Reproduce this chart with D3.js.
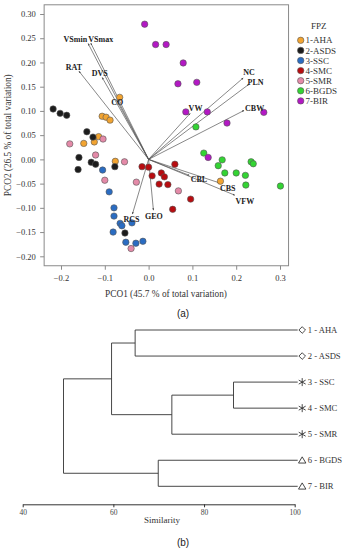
<!DOCTYPE html>
<html><head><meta charset="utf-8">
<script src="https://cdn.jsdelivr.net/npm/d3@7"></script>
<style>body{margin:0;background:#fff}svg{display:block}</style>
</head><body>
<script>
// ---------- DATA ----------
const groups = ["1-AHA","2-ASDS","3-SSC","4-SMC","5-SMR","6-BGDS","7-BIR"];
const groupColors = ["#f2a431","#1c1c1c","#2a6cc2","#b80c10","#e48aa8","#33d433","#b318c4"];
const xTicks = [-0.2,-0.1,0.0,0.1,0.2,0.3];
const yTicks = [-0.20,-0.15,-0.10,-0.05,0.00,0.05,0.10,0.15,0.20,0.25,0.30];
const ahaPts = [[-0.066,0.128],[-0.106,0.089],[-0.097,0.087],[-0.088,0.081],[-0.114,0.047],[-0.124,0.036],[-0.148,0.033],[-0.076,-0.004],[0.164,-0.045]];
const asdsPts = [[-0.218,0.104],[-0.202,0.095],[-0.187,0.091],[-0.141,0.057],[-0.127,0.046],[-0.159,0.004],[-0.131,-0.006],[-0.121,-0.010],[-0.077,-0.015],[-0.161,-0.021],[-0.054,-0.152]];
const sscPts = [[-0.105,-0.022],[-0.090,-0.067],[-0.079,-0.100],[-0.079,-0.117],[-0.065,-0.132],[-0.061,-0.137],[-0.038,-0.131],[-0.081,-0.150],[-0.052,-0.171],[-0.029,-0.173],[-0.013,-0.169]];
const smcPts = [[-0.015,-0.015],[0.000,-0.016],[0.008,-0.034],[0.029,-0.028],[0.036,-0.036],[0.024,-0.051],[0.044,-0.052],[0.060,-0.010],[0.096,-0.082],[0.055,-0.103]];
const smrPts = [[-0.104,0.042],[-0.180,0.032],[-0.121,0.009],[-0.055,-0.005],[-0.100,-0.043],[-0.028,-0.047],[-0.040,-0.184],[0.068,-0.065]];
const bgdsPts = [[0.108,0.067],[0.126,0.013],[0.168,-0.001],[0.159,-0.013],[0.174,-0.028],[0.200,-0.028],[0.221,-0.033],[0.234,-0.005],[0.239,-0.009],[0.222,-0.053],[0.301,-0.055]];
const birPts = [[-0.009,0.279],[0.016,0.237],[0.040,0.237],[0.079,0.199],[0.067,0.156],[0.110,0.159],[0.085,0.098],[0.134,0.098],[0.263,0.097],[0.179,0.075],[0.136,0.004]];
const vectorNames = ["VSmin","VSmax","RAT","DVS","CO","NC","PLN","CBW","VW","CBL","CBS","VFW","GEO","RCS"];
const vectorX = [-0.138,-0.132,-0.159,-0.106,-0.073,0.216,0.229,0.218,0.095,0.093,0.160,0.197,0.011,-0.037];
const vectorY = [0.239,0.240,0.182,0.169,0.122,0.168,0.155,0.101,0.095,-0.033,-0.048,-0.074,-0.105,-0.113];
const xTitle = "PCO1 (45.7 % of total variation)";
const yTitle = "PCO2 (26.5 % of total variation)";

const leaves = ["1 - AHA","2 - ASDS","3 - SSC","4 - SMC","5 - SMR","6 - BGDS","7 - BIR"];
const leafSymbols = ["diamond","diamond","asterisk","asterisk","asterisk","triangle","triangle"];
const simTicks = [40,60,80,100];
// merge similarities
const tree = {sim:49.0, children:[
  {sim:59.6, children:[
    {sim:64.8, children:[{leaf:0},{leaf:1}]},
    {sim:72.9, children:[{sim:86.5, children:[{leaf:2},{leaf:3}]},{leaf:4}]}
  ]},
  {sim:69.9, children:[{leaf:5},{leaf:6}]}
]};

// ---------- STYLE / LAYOUT ----------
const serif = "'Liberation Serif','DejaVu Serif',serif";
const labelPos = { // [anchor, dx, dy]
  VSmin:["end",-1,-1.3], VSmax:["start",-2.5,-1.2], RAT:["middle",-5,-1.5], DVS:["middle",-2.5,-1.8],
  CO:["middle",0.6,5], NC:["start",0,-2.5], PLN:["start",-1.3,0.6], CBW:["start",1,0.5],
  VW:["start",-1.6,-2.3], CBL:["start",1.4,6.7], CBS:["start",1.3,8], VFW:["start",0.7,8.3],
  GEO:["middle",0.5,8.7], RCS:["middle",-1,7.7]
};

const svg = d3.select("body").append("svg").attr("width",352).attr("height",550);

const x = d3.scaleLinear().domain([-0.2,0.3]).range([61,280]);
const y = d3.scaleLinear().domain([-0.2,0.3]).range([256.3,14]);
const x0 = x(-0.2385), x1 = x(0.3195), yTop = y(0.319), yBot = y(-0.2195);

// frame
svg.append("rect").attr("x",x0).attr("y",yTop).attr("width",x1-x0).attr("height",yBot-yTop)
  .attr("fill","none").attr("stroke","#8a8a8a").attr("stroke-width",1);

// axes
const gx = svg.append("g").attr("transform",`translate(0,${yBot})`)
  .call(d3.axisBottom(x).tickValues(xTicks).tickFormat(d3.format(".1f")).tickSize(4).tickSizeOuter(0));
const gy = svg.append("g").attr("transform",`translate(${x0},0)`)
  .call(d3.axisLeft(y).tickValues(yTicks).tickFormat(d3.format(".2f")).tickSize(4).tickSizeOuter(0));
[gx,gy].forEach(g=>{
  g.select(".domain").remove();
  g.selectAll("line").attr("stroke","#8a8a8a");
  g.selectAll("text").attr("font-family",serif).attr("font-size",8.5).attr("fill","#333");
});
gx.selectAll("text").attr("dy","1.0em");
gy.selectAll("text").attr("dx","-0.15em");

svg.append("text").attr("x",166).attr("y",297).attr("text-anchor","middle")
  .attr("font-family",serif).attr("font-size",9.3).attr("fill","#333").text(xTitle);
svg.append("text").attr("transform",`translate(11,${(yTop+yBot)/2}) rotate(-90)`).attr("text-anchor","middle")
  .attr("font-family",serif).attr("font-size",9.3).attr("fill","#333").text(yTitle);

// arrows
svg.append("defs").append("marker").attr("id","ah").attr("viewBox","0 0 10 10").attr("refX",9).attr("refY",5)
  .attr("markerWidth",3.2).attr("markerHeight",3.2).attr("orient","auto")
  .append("path").attr("d","M0,1 L10,5 L0,9 Z").attr("fill","#444");
const vec = vectorNames.map((n,i)=>({n, vx:vectorX[i], vy:vectorY[i]}));
svg.append("g").selectAll("line").data(vec).join("line")
  .attr("x1",x(0)).attr("y1",y(0)).attr("x2",d=>x(d.vx)).attr("y2",d=>y(d.vy))
  .attr("stroke","#555").attr("stroke-width",0.7).attr("marker-end","url(#ah)");

// points
const allSets = [ahaPts,asdsPts,sscPts,smcPts,smrPts,bgdsPts,birPts];
const pts = allSets.flatMap((s,g)=>s.map(p=>({g, px:p[0], py:p[1]})));
svg.append("g").selectAll("circle").data(pts).join("circle")
  .attr("cx",d=>x(d.px)).attr("cy",d=>y(d.py)).attr("r",3.2)
  .attr("fill",d=>groupColors[d.g]).attr("stroke","#555").attr("stroke-width",0.6);

// vector labels
svg.append("g").selectAll("text").data(vec).join("text")
  .attr("x",d=>x(d.vx)+labelPos[d.n][1]).attr("y",d=>y(d.vy)+labelPos[d.n][2])
  .attr("text-anchor",d=>labelPos[d.n][0])
  .attr("font-family",serif).attr("font-weight","bold").attr("font-size",8).attr("fill","#222")
  .text(d=>d.n);

// legend
svg.append("text").attr("x",318.7).attr("y",29).attr("text-anchor","middle")
  .attr("font-family",serif).attr("font-size",9).attr("fill","#333").text("FPZ");
const lg = svg.append("g").selectAll("g").data(groups).join("g")
  .attr("transform",(d,i)=>`translate(300.7,${40.3+i*10.1})`);
lg.append("circle").attr("r",3.2).attr("fill",(d,i)=>groupColors[i]).attr("stroke","#555").attr("stroke-width",0.6);
lg.append("text").attr("x",4.8).attr("y",3.1).attr("font-family",serif).attr("font-size",9).attr("fill","#333").text(d=>d);

// (a)
svg.append("text").attr("x",183).attr("y",317).attr("text-anchor","middle")
  .attr("font-family","'Liberation Sans',Arial,sans-serif").attr("font-size",10).attr("fill","#222").text("(a)");

// ---------- DENDROGRAM ----------
const sx = d3.scaleLinear().domain([40,100]).range([22.7,294.7]);
const ly = d3.scalePoint().domain(d3.range(leaves.length)).range([330,486.3]);
const root = d3.hierarchy(tree);
root.eachAfter(n=>{
  if(n.data.leaf!==undefined){ n.px = sx(100); n.py = ly(n.data.leaf); }
  else { n.px = sx(n.data.sim); n.py = d3.mean(n.children,c=>c.py); }
});
const dg = svg.append("g").attr("stroke","#333").attr("stroke-width",0.9).attr("fill","none");
root.each(n=>{
  if(!n.children) return;
  const ys = n.children.map(c=>c.py);
  dg.append("line").attr("x1",n.px).attr("x2",n.px).attr("y1",d3.min(ys)).attr("y2",d3.max(ys));
  n.children.forEach(c=>{
    dg.append("line").attr("x1",n.px).attr("x2",c.children? c.px : c.px+3).attr("y1",c.py).attr("y2",c.py);
  });
});
// leaf markers and labels
const lf = svg.append("g").selectAll("g").data(leaves).join("g")
  .attr("transform",(d,i)=>`translate(${sx(100)+7.5},${ly(i)})`);
lf.each(function(d,i){
  const g = d3.select(this), s = leafSymbols[i];
  if(s==="diamond") g.append("path").attr("d","M0,-3.3L3.3,0L0,3.3L-3.3,0Z").attr("fill","#fff").attr("stroke","#333").attr("stroke-width",0.9);
  else if(s==="triangle") g.append("path").attr("d","M0,-3.4L3.7,2.8L-3.7,2.8Z").attr("fill","#fff").attr("stroke","#333").attr("stroke-width",0.9);
  else {
    const a = g.append("g").attr("stroke","#333").attr("stroke-width",0.9);
    [0,60,120].forEach(ang=>{
      const r=4, t=ang*Math.PI/180;
      a.append("line").attr("x1",-r*Math.sin(t)).attr("y1",-r*Math.cos(t)).attr("x2",r*Math.sin(t)).attr("y2",r*Math.cos(t));
    });
  }
});
lf.append("text").attr("x",5.5).attr("y",3).attr("font-family",serif).attr("font-size",8.6).attr("fill","#333").text(d=>d);

// similarity axis
const ga = svg.append("g").attr("transform","translate(0,504.3)")
  .call(d3.axisBottom(sx).tickValues(simTicks).tickSize(3).tickSizeOuter(0));
ga.select(".domain").attr("stroke","#333");
ga.selectAll("line").attr("stroke","#333");
ga.selectAll("text").attr("font-family",serif).attr("font-size",7.5).attr("fill","#444").attr("dy","0.6em");
svg.append("text").attr("x",162).attr("y",523).attr("text-anchor","middle")
  .attr("font-family",serif).attr("font-size",9).attr("fill","#333").text("Similarity");
svg.append("text").attr("x",183).attr("y",546).attr("text-anchor","middle")
  .attr("font-family","'Liberation Sans',Arial,sans-serif").attr("font-size",10).attr("fill","#222").text("(b)");
</script>
</body></html>
